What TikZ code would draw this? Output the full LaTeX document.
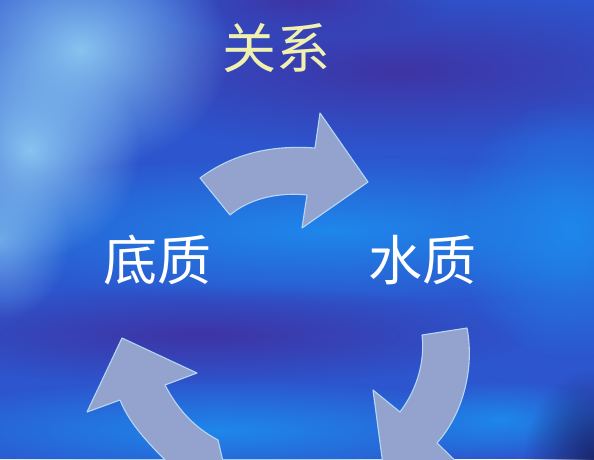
\documentclass[tikz,border=0pt]{standalone}
\usepackage{fontspec}
\newfontfamily\cjk{Noto Sans CJK SC}
\usetikzlibrary{fadings}
\definecolor{bgbase}{RGB}{45,85,205}
\definecolor{glowtl}{RGB}{135,195,240}
\definecolor{brightband}{RGB}{30,135,235}
\definecolor{darkband}{RGB}{62,52,165}
\definecolor{navy}{RGB}{25,40,110}
\definecolor{arrowfill}{RGB}{148,163,205}
\definecolor{arrowline}{RGB}{180,215,245}
\definecolor{titlecol}{RGB}{240,240,175}
\tikzfading[name=fuzzy, inner color=transparent!0, outer color=transparent!100]
\tikzset{
  blob/.style={fill=#1, path fading=fuzzy},
  cyclearrow/.style={fill=arrowfill, draw=arrowline, line width=1.1pt, line join=round},
  label/.style={font=\cjk\fontsize{54}{54}\selectfont, inner sep=0pt}
}
\begin{document}
\begin{tikzpicture}[x=1pt,y=-1pt]
\useasboundingbox (0,0) rectangle (594,459);
\clip (0,0) rectangle (594,459);
% background
\fill[bgbase] (0,0) rectangle (594,459);
\fill[blob=darkband] (400,70) ellipse [x radius=340, y radius=80];
\fill[blob=darkband] (300,0) ellipse [x radius=150, y radius=40];
\fill[blob=brightband] (330,230) ellipse [x radius=420, y radius=75];
\fill[blob=brightband] (570,230) ellipse [x radius=120, y radius=130];
\fill[blob=darkband] (200,335) ellipse [x radius=330, y radius=50];
\fill[blob=brightband] (220,430) ellipse [x radius=340, y radius=50];
\fill[blob=brightband] (500,420) ellipse [x radius=120, y radius=40];
\fill[blob=navy] (594,459) ellipse [x radius=70, y radius=90];
\fill[blob=glowtl] (80,50) ellipse [x radius=150, y radius=120];
\fill[blob=glowtl] (30,150) ellipse [x radius=110, y radius=110];
\fill[blob=glowtl, opacity=0.7] (0,240) ellipse [x radius=70, y radius=80];
% labels
\node[label, text=titlecol] (rel) at (276,48) {关系};
\node[label, text=white] (sed) at (157,260) {底质};
\node[label, text=white] (wat) at (422,260) {水质};
% arrows
\path[cyclearrow] (200,178) .. controls (235,152) and (275,145) .. (315,148)
  -- (320,113) -- (368,182) -- (302,228) -- (307,195)
  .. controls (280,192) and (250,198) .. (230,215) -- cycle;
\path[cyclearrow] (422,335) -- (467,328) .. controls (475,370) and (462,415) .. (437,443)
  -- (470,475) -- (385,480) -- (373,390) -- (400,412)
  .. controls (418,388) and (425,360) .. (422,335) -- cycle;
\path[cyclearrow] (122,338) -- (197,373) -- (165,385)
  .. controls (178,410) and (195,428) .. (218,440) -- (225,470) -- (175,470)
  .. controls (150,445) and (130,425) .. (120,400) -- (87,412) -- cycle;
\end{tikzpicture}
\end{document}
